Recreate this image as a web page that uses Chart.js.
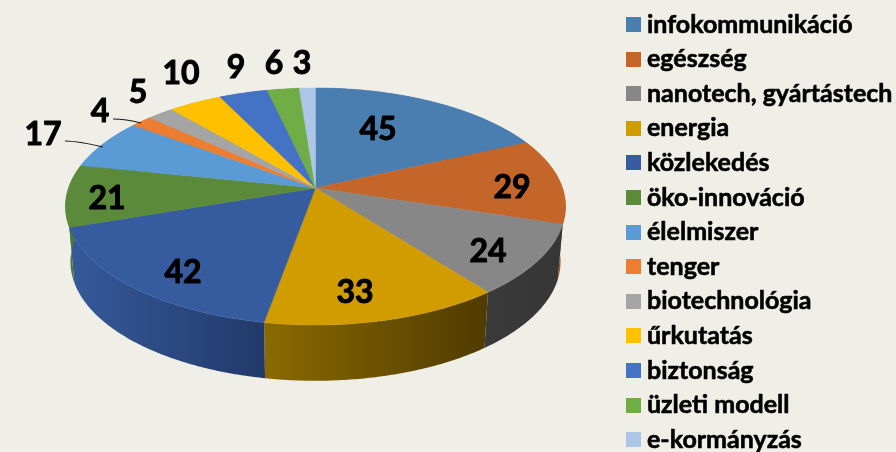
<!DOCTYPE html>
<html><head><meta charset="utf-8">
<style>html,body{margin:0;padding:0;background:#f0efe7}#w{width:896px;height:452px}</style>
<script src="https://cdn.jsdelivr.net/npm/chart.js@4"></script>
</head><body><div id="w"><canvas id="c" width="896" height="452"></canvas></div>
<script>
const categories=["infokommunikáció","egészség","nanotech, gyártástech","energia","közlekedés","öko-innováció","élelmiszer","tenger","biotechnológia","űrkutatás","biztonság","üzleti modell","e-kormányzás"];
const values=[45,29,24,33,42,21,17,4,5,10,9,6,3];
const sliceColors=["#4a7eb0","#c4662a","#878787","#d09c00","#365c9f","#5b8b3a","#5b9bd5","#ed7d31","#a5a5a5","#ffc000","#4472c4","#70ad47","#adc5e7"];
const wallLeft=["#3a6389","#a35422","#3a3a3a","#8a6a00","#355a9a","#4d7a30","#4a7fb0","#c06428","#848484","#cc9a00","#365b9c","#5a8a39","#8a9eb9"];
const wallRight=["#3a6389","#a35422","#363636","#4f3b00","#22396a","#4d7a30","#4a7fb0","#c06428","#848484","#cc9a00","#365b9c","#5a8a39","#8a9eb9"];
const labelSpots=[[378,129.5],[512,187.5],[488,251.5],[355,292.5],[183,272.5],[107,198.5],[43,134.5],[100,111.5],[138,92.5],[181,73.5],[236,67.5],[274,63.5],[302,63.5]];
const leaders=[[[65,141],[78,141],[103,147]],[[113,119],[126,119],[141,123]]];

const CX=315.5,CY=188,RX=247,RY=115.6,K=0.156,DROP=55,DROPZ=0.8,SHRINK=0.98;
function proj(a){ // a = chart.js arc angle, -PI/2 is top
  const x=Math.cos(a),z=Math.sin(a),w=1-K*z;
  return [CX+RX*x/w,CY+RY*z/w,z];
}
function low(a){const p=proj(a);return [CX+(p[0]-CX)*SHRINK,p[1]+DROP+DROPZ*p[2]];}
function edge(s,e){const n=Math.max(2,Math.ceil((e-s)/0.01));const o=[];for(let i=0;i<=n;i++)o.push(s+(e-s)*i/n);return o;}

const pie3d={id:'pie3d',
 beforeDatasetDraw(chart){
  const ctx=chart.ctx,arcs=chart.getDatasetMeta(0).data;
  arcs.forEach((arc,i)=>{
    const as=edge(arc.startAngle,arc.endAngle);
    const xs=as.map(a=>proj(a)[0]);
    const g=ctx.createLinearGradient(Math.min(...xs),0,Math.max(...xs),0);
    g.addColorStop(0,wallLeft[i]);g.addColorStop(1,wallRight[i]);
    ctx.beginPath();
    as.forEach((a,j)=>{const p=proj(a);j?ctx.lineTo(p[0],p[1]):ctx.moveTo(p[0],p[1]);});
    as.slice().reverse().forEach(a=>{const p=low(a);ctx.lineTo(p[0],p[1]);});
    ctx.closePath();ctx.fillStyle=g;ctx.fill();
  });
  arcs.forEach((arc,i)=>{
    ctx.beginPath();ctx.moveTo(CX,CY);
    edge(arc.startAngle,arc.endAngle).forEach(a=>{const p=proj(a);ctx.lineTo(p[0],p[1]);});
    ctx.closePath();ctx.fillStyle=sliceColors[i];ctx.fill();
    ctx.strokeStyle=sliceColors[i];ctx.lineWidth=0.5;ctx.stroke();
  });
  return false;
 },
 afterDatasetsDraw(chart){
  const ctx=chart.ctx;
  ctx.strokeStyle='#111';ctx.lineWidth=1.2;
  leaders.forEach(l=>{ctx.beginPath();ctx.moveTo(l[0][0],l[0][1]);ctx.quadraticCurveTo(l[1][0],l[1][1],l[2][0],l[2][1]);ctx.stroke();});
  ctx.fillStyle='#000';ctx.strokeStyle='#000';ctx.lineJoin='round';
  ctx.font='bold 32px Lato';ctx.textAlign='center';ctx.textBaseline='middle';ctx.lineWidth=1;
  values.forEach((v,i)=>{ctx.fillText(String(v),labelSpots[i][0],labelSpots[i][1]);ctx.strokeText(String(v),labelSpots[i][0],labelSpots[i][1]);});
  ctx.textAlign='left';ctx.font='bold 25px Lato';ctx.lineWidth=0.6;
  categories.forEach((t,i)=>{
    const y=24.5+i*34.6;
    ctx.fillStyle=sliceColors[i];ctx.fillRect(626,Math.round(y-7.5),15,15);
    ctx.fillStyle='#000';ctx.fillText(t,647,y);ctx.strokeText(t,647,y);
  });
 }};
new Chart(document.getElementById('c'),{type:'pie',
 data:{labels:categories,datasets:[{data:values,backgroundColor:sliceColors,borderWidth:0}]},
 options:{responsive:false,animation:false,plugins:{legend:{display:false},tooltip:{enabled:false}}},
 plugins:[pie3d]});
</script></body></html>
